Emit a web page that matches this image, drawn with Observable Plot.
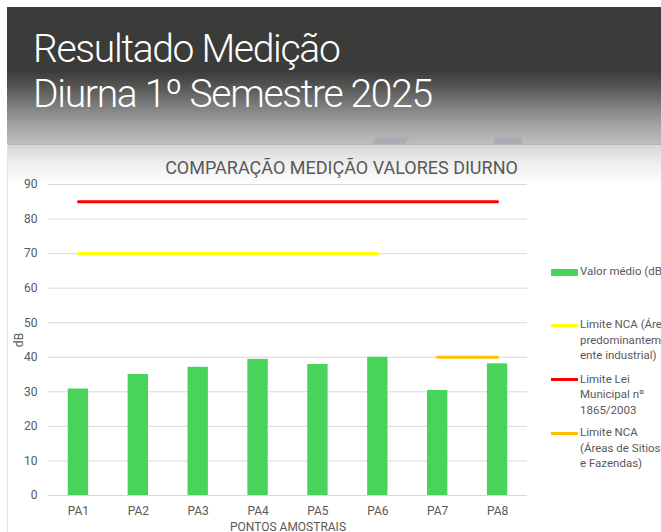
<!DOCTYPE html>
<html><head><meta charset="utf-8">
<script src="https://cdn.jsdelivr.net/npm/d3@7"></script>
<script src="https://cdn.jsdelivr.net/npm/@observablehq/plot@0.6"></script>
<style>
html,body{margin:0;padding:0;width:661px;height:532px;overflow:hidden;background:#fff;}
#header{position:absolute;left:7px;top:7px;width:654px;height:137px;
 background:linear-gradient(to bottom,#3b3b39 0px,#3b3b39 64px,#5a5a59 82px,#8a8a8a 105px,#aaaaaa 122px,#bdbdbd 137px);}
#title{position:absolute;left:33px;top:27px;color:#fff;font-family:Roboto,sans-serif;font-size:39px;line-height:45px;font-weight:300;letter-spacing:-1.3px;white-space:nowrap;}
.deco1{position:absolute;left:372px;top:137px;width:38px;height:7px;background:#a9aeb4;clip-path:polygon(15% 0,100% 0,85% 100%,0 100%);}
.deco2{position:absolute;left:494px;top:137px;width:28px;height:7px;background:#a9aeb4;}
#panel{position:absolute;left:7px;top:144px;width:654px;height:388px;border-top:1px solid #b5b5b5;border-left:1px solid #e2e2e2;
 background:linear-gradient(to bottom,#d6d6d6 0px,#eeeeee 18px,#ffffff 40px);box-sizing:border-box;}
#charttitle{position:absolute;left:0;width:683px;top:157px;text-align:center;font-family:Roboto,sans-serif;font-size:18px;color:#595959;white-space:nowrap;}
#chart{position:absolute;left:7px;top:147px;}
#legend{position:absolute;left:551px;top:0;width:200px;font-family:Roboto,sans-serif;font-size:11.5px;color:#595959;}
.sw{position:absolute;left:0;width:27px;}
.txt{position:absolute;left:29px;line-height:15.5px;white-space:nowrap;}
</style></head>
<body>
<div id="header"></div>
<div class="deco1"></div><div class="deco2"></div>
<div id="title">Resultado Medição<br>Diurna 1º Semestre 2025</div>
<div id="panel"></div>
<div id="charttitle">COMPARAÇÃO MEDIÇÃO VALORES DIURNO</div>
<div id="chart"></div>
<div id="legend"></div>
<script>
const categorias = ["PA1","PA2","PA3","PA4","PA5","PA6","PA7","PA8"];
const valorMedio = [30.8, 35.0, 37.1, 39.4, 37.9, 40.0, 30.4, 38.1];
const limiteIndustrial = [70,70,70,70,70,70,null,null];
const limiteMunicipal = [85,85,85,85,85,85,85,85];
const limiteSitios = [null,null,null,null,null,null,40,40];
const yTicks = [0,10,20,30,40,50,60,70,80,90];

const corBarra = "#48d35a", corAmarelo = "#ffff00", corVermelho = "#ff0000", corLaranja = "#ffc000";

const rows = categorias.map((c,i)=>({cat:c, v:valorMedio[i], ind:limiteIndustrial[i], mun:limiteMunicipal[i], sit:limiteSitios[i]}));

const chart = Plot.plot({
  width:654, height:385,
  marginTop:37, marginBottom:37, marginLeft:41, marginRight:134,
  style:{fontFamily:"Roboto, sans-serif", fontSize:"12px", color:"#595959", background:"transparent", overflow:"visible"},
  x:{domain:categorias, paddingInner:0.66, paddingOuter:0.33, round:false},
  y:{domain:[0,90]},
  marks:[
    Plot.gridY(yTicks,{stroke:"#d9d9d9", strokeOpacity:1, strokeWidth:1}),
    Plot.barY(rows,{x:"cat", y:"v", fill:corBarra}),
    Plot.lineY(rows,{x:"cat", y:"ind", stroke:corAmarelo, strokeWidth:3, defined:d=>d.ind!=null}),
    Plot.lineY(rows,{x:"cat", y:"mun", stroke:corVermelho, strokeWidth:3}),
    Plot.lineY(rows,{x:"cat", y:"sit", stroke:corLaranja, strokeWidth:3, defined:d=>d.sit!=null}),
    Plot.axisY({ticks:yTicks, tickSize:0, tickPadding:11, label:"dB", labelAnchor:"center", labelArrow:"none", labelOffset:34, fontSize:12}),
    Plot.axisX({tickSize:0, tickPadding:11, label:"PONTOS AMOSTRAIS", labelAnchor:"center", labelArrow:"none", labelOffset:35, fontSize:12})
  ]
});
document.getElementById("chart").appendChild(chart);

const legendItems = [
  {type:"rect", color:corBarra, y:272, lines:["Valor médio (dB)"]},
  {type:"line", color:corAmarelo, y:325, lines:["Limite NCA (Áreas","predominantem","ente industrial)"]},
  {type:"line", color:corVermelho, y:379.5, lines:["Limite Lei","Municipal nº","1865/2003"]},
  {type:"line", color:corLaranja, y:433, lines:["Limite NCA","(Áreas de Sitios","e Fazendas)"]}
];
const lg = document.getElementById("legend");
legendItems.forEach(it=>{
  const sw = document.createElement("div");
  sw.className="sw";
  const h = it.type==="rect"?7:3;
  sw.style.top=(it.y-h/2)+"px"; sw.style.height=h+"px"; sw.style.background=it.color;
  lg.appendChild(sw);
  const t = document.createElement("div");
  t.className="txt"; t.style.top=(it.y-8)+"px";
  t.innerHTML = it.lines.join("<br>");
  lg.appendChild(t);
});
</script>
</body></html>
